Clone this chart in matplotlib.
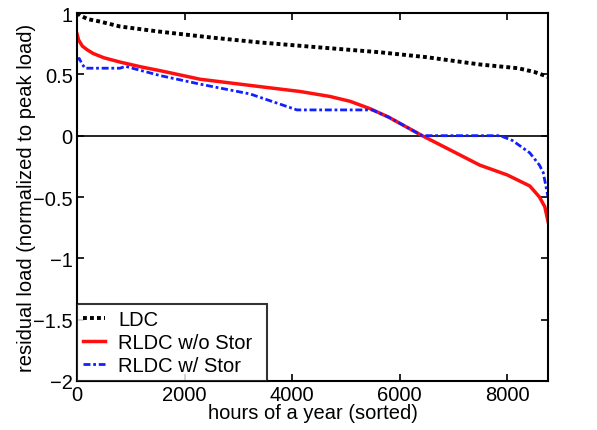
import matplotlib
matplotlib.use("Agg")
import matplotlib.pyplot as plt

# load duration curve (normalized)
ldc_hours = [0, 60, 200, 430, 800, 1500, 2500, 3400, 4500, 5630, 6500, 7500, 8200, 8500, 8760]
ldc = [1.0, 0.98, 0.95, 0.93, 0.89, 0.85, 0.80, 0.76, 0.72, 0.68, 0.64, 0.58, 0.55, 0.52, 0.48]

# residual load duration curve without storage
red_hours = [0, 30, 100, 190, 300, 500, 800, 1200, 1545, 2290, 3400, 4150, 4700, 5080, 5450,
             5800, 6420, 7000, 7490, 8000, 8420, 8600, 8700, 8760]
rldc_nostor = [0.83, 0.78, 0.73, 0.70, 0.67, 0.635, 0.60, 0.56, 0.53, 0.46, 0.40, 0.36, 0.32,
               0.28, 0.22, 0.15, 0.0, -0.13, -0.24, -0.32, -0.41, -0.50, -0.58, -0.70]

# residual load duration curve with storage
blue_hours = [0, 40, 100, 150, 800, 900, 1200, 1545, 2290, 3220, 4090, 5490, 5800, 6420,
              7870, 8100, 8420, 8600, 8670, 8760]
rldc_stor = [0.62, 0.63, 0.58, 0.55, 0.55, 0.565, 0.53, 0.49, 0.42, 0.34, 0.21, 0.21, 0.15, 0.0,
             0.0, -0.04, -0.14, -0.24, -0.30, -0.50]

labels = ["LDC", "RLDC w/o Stor", "RLDC w/ Stor"]
xticks = [0, 2000, 4000, 6000, 8000]
yticks = [-2, -1.5, -1, -0.5, 0, 0.5, 1]

plt.rcParams['font.family'] = ['Liberation Sans', 'DejaVu Sans']
fs = 14.5

fig = plt.figure(figsize=(5.97, 4.31), dpi=100)
ax = fig.add_axes([0.129, 0.1137, 0.789, 0.8538])

ax.axhline(0, color='black', linewidth=1.2, zorder=1)
ax.plot(ldc_hours, ldc, color='black', linestyle=(0, (1, 0.8)), linewidth=2.8, label=labels[0])
ax.plot(red_hours, rldc_nostor, color='#ff1010', linestyle='-', linewidth=2.5, label=labels[1])
ax.plot(blue_hours, rldc_stor, color='#1020ff', linestyle=(0, (2.5, 1, 1, 1)), linewidth=2,
        label=labels[2])

ax.set_xlim(0, 8760)
ax.set_ylim(-2, 1)
ax.set_xticks(xticks)
ax.set_xticklabels([str(t) for t in xticks])
ax.set_yticks(yticks)
ax.set_yticklabels(['\u22122', '\u22121.5', '\u22121', '\u22120.5', '0', '0.5', '1'])
ax.tick_params(direction='in', top=True, right=True, length=5, width=1.2,
               labelsize=fs, pad=3)
for s in ax.spines.values():
    s.set_linewidth(1.5)

ax.set_xlabel("hours of a year (sorted)", fontsize=fs, labelpad=-1)
ax.set_ylabel("residual load (normalized to peak load)", fontsize=fs, labelpad=-2)

leg = ax.legend(loc='lower left', fontsize=fs, frameon=True, fancybox=False,
                bbox_to_anchor=(0, 0, 190 / 471, 0.2), mode='expand',
                borderaxespad=0, handlelength=1.1, handletextpad=0.65,
                labelspacing=0.2, borderpad=0.3)
leg.get_frame().set_edgecolor('black')
leg.get_frame().set_linewidth(1.5)

fig.savefig("out.png", dpi=100)
